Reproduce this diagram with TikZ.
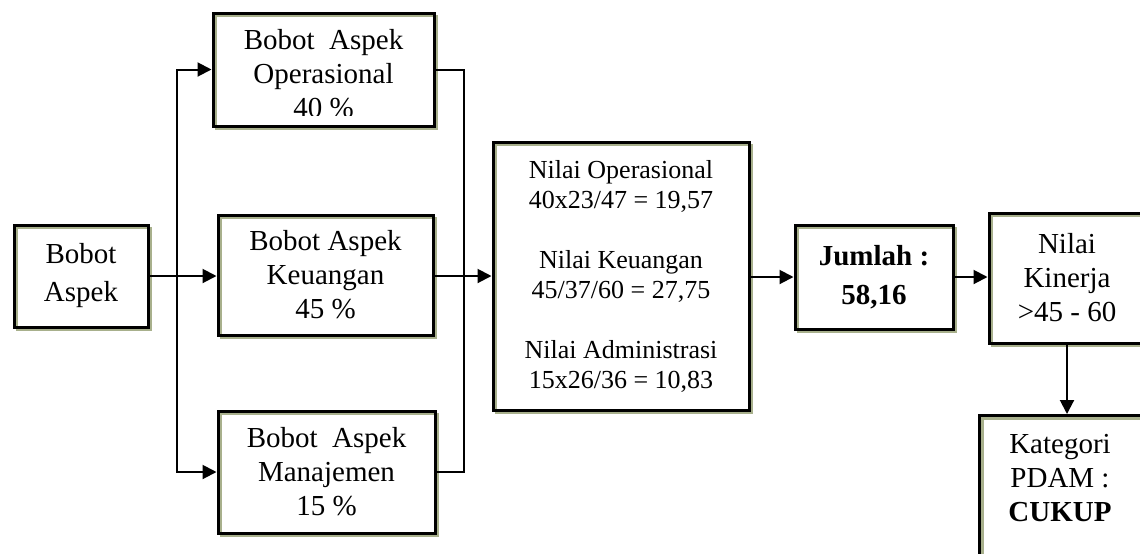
\documentclass[tikz,border=0pt]{standalone}
\usepackage{fontspec}
\setmainfont{Liberation Serif}
\usetikzlibrary{arrows.meta}
\definecolor{bayang}{RGB}{168,176,140}

\begin{document}
\begin{tikzpicture}[x=0.5pt, y=-0.5pt,
    kotak/.style={draw, line width=1.5pt, align=center, inner sep=0pt,
      preaction={draw=bayang, line width=1.2pt, transform canvas={shift={(1.5pt,-1.5pt)}}}},
    teks/.style={align=center, inner sep=0pt, font=\fontsize{14.5}{17}\selectfont},
    garis/.style={line width=1pt},
    panah/.style={line width=1pt, -{Triangle[length=7pt, width=7pt]}}]
  \clip (0,0) rectangle (1140,553);
  % Nodes
  \node[kotak, teks, minimum width=67pt, minimum height=51pt, font=\fontsize{14.5}{19}\selectfont] (aspek) at (81,276) {Bobot\\Aspek};
  \node[kotak, minimum width=110.5pt, minimum height=56.5pt] (ops) at (323.5,69.5) {};
  \begin{scope}
    \clip (ops.north west) rectangle ([yshift=6pt]ops.south east);
    \node[teks] (opsteks) at (323.5,74) {Bobot\ \ Aspek\\Operasional\\40 \%};
  \end{scope}
  \node[kotak, teks, minimum width=107.5pt, minimum height=60pt] (keu) at (325.5,275) {Bobot Aspek\\Keuangan\\45 \%};
  \node[kotak, teks, minimum width=108.5pt, minimum height=61pt] (man) at (326.5,472) {Bobot\ \ Aspek\\Manajemen\\15 \%};
  \node[kotak, teks, minimum width=128pt, minimum height=134pt, font=\fontsize{13}{15}\selectfont] (nilai) at (621,276)
    {Nilai Operasional\\40x23/47 = 19,57\\[15pt]Nilai Keuangan\\45/37/60 = 27,75\\[15pt]Nilai Administrasi\\15x26/36 = 10,83};
  \node[kotak, teks, minimum width=79pt, minimum height=52pt, font=\fontsize{14.5}{19.5}\selectfont\bfseries] (jumlah) at (874,277) {Jumlah :\\58,16};
  \node[kotak, teks, minimum width=78pt, minimum height=65pt] (kinerja) at (1067,278) {Nilai\\Kinerja\\>45 - 60};
  \node[kotak, minimum width=84pt, minimum height=100pt, anchor=north west] (kategori) at (978,414) {};
  \node[teks] (kategoriteks) at (1060,478) {Kategori\\PDAM :\\\textbf{CUKUP}};
  \coordinate (kiri) at (177,276);
  \coordinate (kanan) at (464,276);
  % Connectors
  \draw[panah] (aspek.east) -- (aspek.east -| keu.west);
  \draw[panah] (kiri) |- (ops.west);
  \draw[panah] (kiri) |- (man.west);
  \draw[garis] (ops.east) -| (kanan);
  \draw[garis] (man.east) -| (kanan);
  \draw[panah] (kanan -| keu.east) -- (kanan -| nilai.west);
  \draw[panah] (nilai.east |- jumlah.west) -- (jumlah.west);
  \draw[panah] (jumlah.east) -- (jumlah.east -| kinerja.west);
  \draw[panah] (kinerja.south) -- (kinerja.south |- kategori.north);
\end{tikzpicture}
\end{document}
